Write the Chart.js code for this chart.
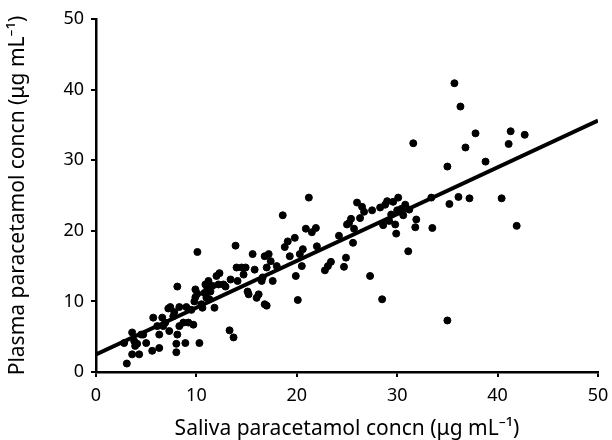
<!DOCTYPE html>
<html>
<head>
<meta charset="utf-8">
<script src="https://cdn.jsdelivr.net/npm/chart.js@4.4.1/dist/chart.umd.min.js"></script>
<style>
html,body{margin:0;padding:0;background:#fff;}
#wrap{width:612px;height:440px;}
</style>
</head>
<body>
<div id="wrap"><canvas id="c" width="612" height="440"></canvas></div>
<script>
const salivaX = [3.07,3.6,2.8,3.6,3.8,3.9,4.1,4.3,4.5,4.7,5.0,5.6,5.7,6.3,6.1,6.3,6.6,6.7,6.9,7.3,7.4,7.7,8.0,8.0,8.1,8.1,8.3,8.3,8.7,8.9,9.0,9.5,9.7,9.8,9.9,10.1,10.3,10.6,10.8,11.0,11.2,11.4,11.6,11.8,12.2,12.3,12.7,13.3,13.4,13.7,13.9,14.0,14.1,14.5,14.9,15.1,15.2,15.6,15.8,16.0,16.2,16.5,16.8,16.8,17.0,17.0,17.2,17.4,17.6,18.6,18.8,19.1,19.3,19.8,19.9,20.1,20.3,20.5,20.6,20.9,21.2,21.9,22.0,22.8,23.1,23.4,24.2,24.7,24.9,25.2,25.4,25.6,25.7,26.0,26.3,26.5,26.7,27.3,27.5,28.3,28.5,28.6,28.8,29.0,29.2,29.4,29.6,29.8,29.9,30.1,30.4,30.8,31.1,31.2,31.6,31.8,31.9,33.4,33.5,35.0,35.0,35.2,35.7,36.1,36.3,36.8,37.2,37.8,38.8,40.4,41.1,41.3,41.9,42.7,9.9,10.1,10.5,11.1,12.0,7.8,7.2,9.2,12.9,16.6,18.0,14.7,21.5,25.0,30.0,30.6,10.9,11.3];
const plasmaY = [1.2,2.5,4.1,5.6,4.4,3.7,4.0,2.5,5.3,5.3,4.1,3.0,7.7,3.4,6.5,5.3,7.7,6.5,7.0,5.8,9.2,7.9,2.8,4.0,5.3,12.1,9.2,6.5,7.0,4.1,9.2,8.8,6.7,10.0,11.7,17.0,4.1,9.1,11.2,10.5,12.9,11.4,12.2,9.1,12.4,14.0,12.4,5.9,13.1,4.9,17.9,14.8,12.9,14.8,14.8,11.4,11.0,16.7,14.5,10.5,11.0,12.9,16.4,9.6,9.4,14.8,16.7,15.7,12.9,22.2,17.7,18.5,16.4,19.0,13.6,10.2,16.7,15.0,17.4,20.3,24.7,20.4,17.8,14.4,15.0,15.6,19.3,14.9,16.2,21.1,21.7,18.3,20.3,24.0,21.8,23.4,22.7,13.6,22.9,23.3,10.3,20.8,23.7,24.2,21.4,22.3,24.1,20.9,19.6,24.7,23.1,23.7,17.1,23.0,32.4,20.5,21.6,24.7,20.4,29.1,7.3,23.8,40.9,24.8,37.6,31.8,24.6,33.8,29.8,24.6,32.3,34.1,20.7,33.6,10.6,11.1,9.6,11.8,13.6,8.5,9.0,7.0,12.1,13.4,15.0,13.8,19.8,20.9,22.9,22.2,12.4,10.3];
const fitX = [0, 50];
const fitY = [2.5, 35.6];
const xTicks = [0,10,20,30,40,50];
const yTicks = [0,10,20,30,40,50];

const pts = salivaX.map((x,i)=>({x:x, y:plasmaY[i]}));
const fit = fitX.map((x,i)=>({x:x, y:fitY[i]}));

const fam = "'Noto Sans', 'Open Sans', sans-serif";
const tickFont = {family:fam, size:18};
const titleFont = {family:fam, size:21};
new Chart(document.getElementById('c'), {
  type:'scatter',
  data:{datasets:[
    {data:pts, backgroundColor:'#000', borderColor:'#000', pointRadius:3.5, pointHoverRadius:3.5},
    {type:'line', data:fit, borderColor:'#000', borderWidth:4, pointRadius:0, fill:false, tension:0}
  ]},
  options:{
    responsive:false, animation:false,
    plugins:{legend:{display:false}, tooltip:{enabled:false}},
    layout:{padding:{left:0,right:14,top:19,bottom:0}},
    scales:{
      x:{type:'linear', min:0, max:50,
        afterBuildTicks:s=>{s.ticks=xTicks.map(v=>({value:v}));},
        afterFit:s=>{s.height=68; s.paddingRight=0; s.paddingLeft=0;},
        grid:{display:true, drawOnChartArea:false, drawTicks:true, tickLength:5, color:'#000', lineWidth:2},
        border:{color:'#000', width:2.5},
        ticks:{color:'#000', font:tickFont, padding:8, maxRotation:0},
        title:{display:true, text:'Saliva paracetamol concn (μg mL⁻¹)', color:'#000', font:titleFont, padding:{top:0,bottom:-2}}
      },
      y:{type:'linear', min:0, max:50,
        afterBuildTicks:s=>{s.ticks=yTicks.map(v=>({value:v}));},
        afterFit:s=>{s.width=96; s.paddingTop=0; s.paddingBottom=0;},
        grid:{display:true, drawOnChartArea:false, drawTicks:true, tickLength:5, color:'#000', lineWidth:2},
        border:{color:'#000', width:2.5},
        ticks:{color:'#000', font:tickFont, padding:7},
        title:{display:true, text:'Plasma paracetamol concn (μg mL⁻¹)', color:'#000', font:titleFont, padding:{top:5,bottom:0}}
      }
    }
  }
});
</script>
</body>
</html>
